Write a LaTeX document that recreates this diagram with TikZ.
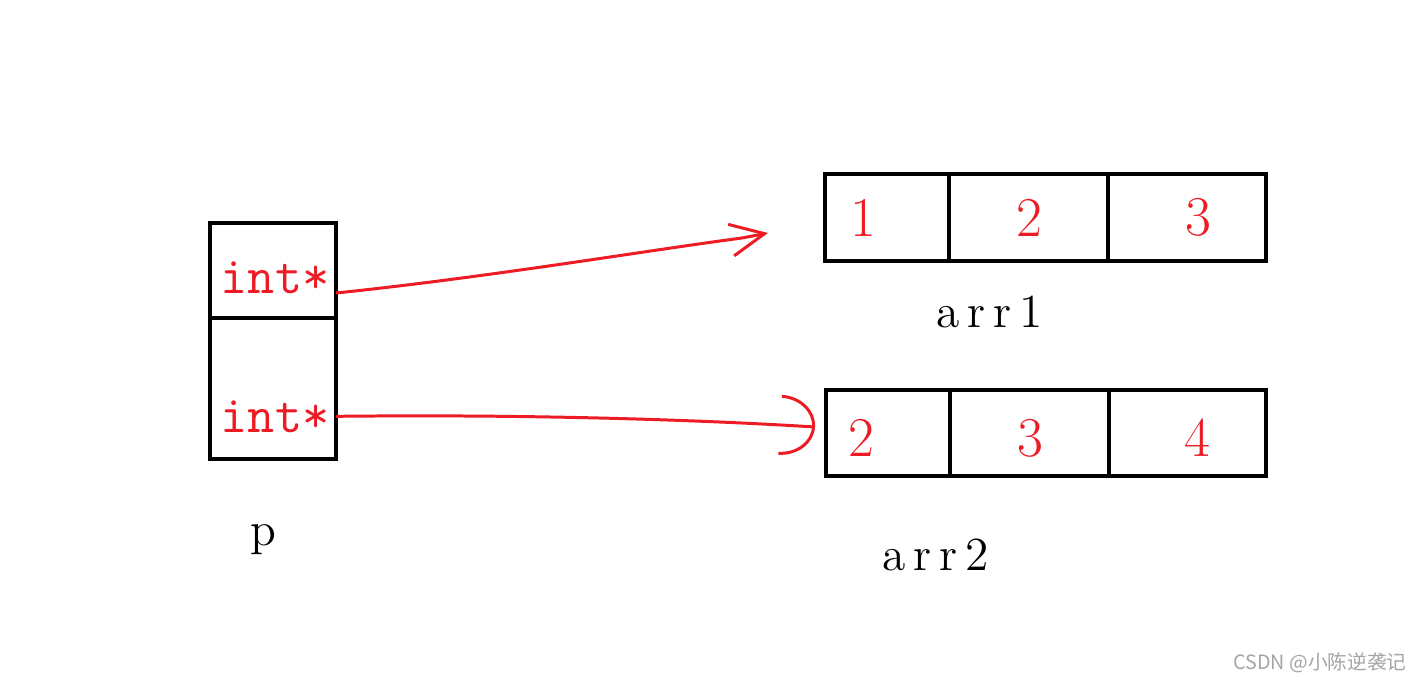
\documentclass[tikz,border=0pt]{standalone}
\usepackage{fontspec}
\usepackage{xcolor}
\usetikzlibrary{arrows.meta,positioning,calc}
\newfontfamily\cjk{Noto Sans CJK SC}
\definecolor{inkred}{RGB}{237,28,36}
\definecolor{wmgray}{RGB}{165,165,165}
\tikzset{
  pcell/.style={rectangle, draw=black, line width=1.3pt,
    outer sep=0pt, inner sep=0pt, minimum width=12.6mm},
  acell/.style={rectangle, draw=black, line width=1.3pt,
    outer sep=0pt, inner sep=0pt, minimum height=8.7mm},
  ptrtxt/.style={font=\fontsize{15}{18}\selectfont\ttfamily,
    text=inkred, inner sep=0pt, anchor=base},
  numtxt/.style={font=\fontsize{16}{19}\selectfont,
    text=inkred, inner sep=0pt},
  lbl/.style={font=\fontsize{13.5}{16}\selectfont,
    anchor=base, inner sep=0pt},
  redarr/.style={line width=0.85pt, color=inkred}
}

\begin{document}
\begin{tikzpicture}

\path[use as bounding box, fill=white] (0,0) rectangle (14.21,6.83);

%% ── POINTER ARRAY p (left) ─────────────────────────────────────────
\node[pcell, minimum height=9.5mm] (p1) at (2.73,4.125) {};
\node[pcell, minimum height=14.1mm, below=0pt of p1] (p2) {};
\node[ptrtxt] (i1) at ($(p1.center)+(0.02,-0.225)$) {int*};
\node[ptrtxt] (i2) at ($(p2.center)+(0.02,-0.435)$) {int*};
\node[lbl] (pname) at (2.63,1.38) {p};

%% ── ARRAY arr1 (top right) ─────────────────────────────────────────
\node[acell, minimum width=12.4mm] (a11) at (8.87,4.655) {};
\node[acell, minimum width=15.9mm, right=0pt of a11] (a12) {};
\node[acell, minimum width=15.8mm, right=0pt of a12] (a13) {};
\node[numtxt, xshift=-2.4mm] (n11) at (a11) {1};
\node[numtxt, xshift=0.1mm]  (n12) at (a12) {2};
\node[numtxt, xshift=1.1mm]  (n13) at (a13) {3};
\node[lbl] (name1) at (9.90,3.56) {a\,r\,r\,1};

%% ── ARRAY arr2 (bottom right) ──────────────────────────────────────
\node[acell, minimum width=12.4mm, minimum height=8.6mm] (a21) at (8.88,2.50) {};
\node[acell, minimum width=15.9mm, minimum height=8.6mm, right=0pt of a21] (a22) {};
\node[acell, minimum width=15.7mm, minimum height=8.6mm, right=0pt of a22] (a23) {};
\node[numtxt, xshift=-2.7mm, yshift=-0.5mm] (n21) at (a21) {2};
\node[numtxt, xshift=0.1mm, yshift=-0.5mm]  (n22) at (a22) {3};
\node[numtxt, xshift=1.0mm, yshift=-0.5mm]  (n23) at (a23) {4};
\node[lbl] (name2) at (9.36,1.13) {a\,r\,r\,2};

%% ── POINTER ARROWS ─────────────────────────────────────────────────
\coordinate (tip1) at (7.68,4.50);
\coordinate (tip2) at (8.15,2.56);

\draw[redarr, -{Straight Barb[length=3.4mm, width=3.2mm]}]
  (p1.east |- i1.base) .. controls (4.9,4.06) and (6.5,4.33) .. (7.42,4.45) -- (tip1);
\draw[redarr, -{Arc Barb[length=3.5mm, width=6mm]}]
  (p2.east |- i2.center) .. controls (5.5,2.69) and (7.2,2.62) .. (tip2);

%% watermark
\node[font=\cjk\fontsize{5.6}{6}\selectfont, text=wmgray] (wm) at (13.20,0.20) {CSDN @小陈逆袭记};

\end{tikzpicture}
\end{document}
